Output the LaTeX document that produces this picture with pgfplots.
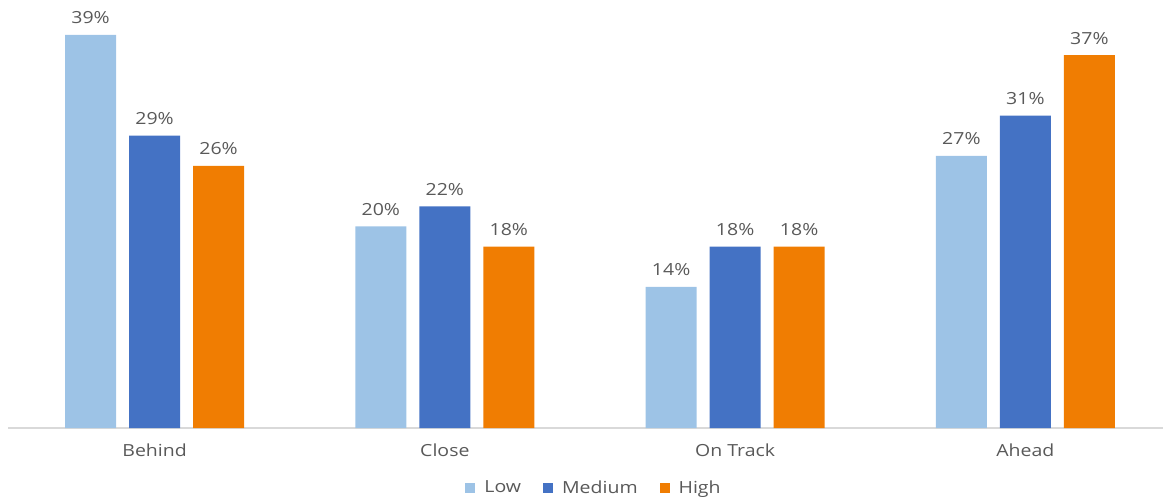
\documentclass[border=0pt]{standalone}
\usepackage{fontspec}
\setmainfont{Open Sans}[FakeStretch=1.17]
\usepackage{pgfplots}
\pgfplotsset{compat=1.18}

\definecolor{lowc}{HTML}{9DC3E6}
\definecolor{medc}{HTML}{4472C4}
\definecolor{highc}{HTML}{F07D02}
\definecolor{txt}{HTML}{595959}
\definecolor{axisgray}{HTML}{D9D9D9}

\begin{document}
\begin{tikzpicture}
% 1 px of the reference = 0.75pt
\useasboundingbox (-6pt,-54pt) rectangle (866.25pt,321pt);
\begin{axis}[
    scale only axis,
    width=866.25pt, height=321pt,
    xmin=-0.505, xmax=3.474,
    ymin=0, ymax=42.47,
    clip=false,
    axis x line=bottom,
    axis y line=none,
    x axis line style={-, draw=axisgray, line width=1pt},
    major tick length=0pt,
    ytick=\empty,
    xtick={0,1,2,3},
    xticklabels={Behind, Close, On Track, Ahead},
    xticklabel style={font=\fontsize{12.5}{14}\selectfont, text=txt, inner sep=0pt, anchor=north, yshift=-12pt},
    ybar, bar width=38.25pt,
    nodes near coords={\pgfmathprintnumber{\pgfplotspointmeta}\%},
    every node near coord/.append style={font=\fontsize{12.5}{14}\selectfont, text=txt, anchor=south, inner sep=0pt, yshift=8pt},
    /pgf/number format/assume math mode=true,
    legend columns=3,
    legend style={at={(axis description cs:0.5065,-0.140)}, anchor=center, draw=none,
        font=\fontsize{12.5}{14}\selectfont, text=txt, nodes={inner sep=0pt},
        /tikz/every odd column/.append style={column sep=6.75pt},
        /tikz/every even column/.append style={column sep=16.5pt}},
    legend image code/.code={\fill[#1] (0pt,-3.75pt) rectangle (7.5pt,3.75pt);},
]
\addplot[fill=lowc, draw=none, bar shift=-48pt] coordinates {(0,39) (1,20) (2,14) (3,27)};
\addlegendentry{Low}
\addplot[fill=medc, draw=none, bar shift=0pt] coordinates {(0,29) (1,22) (2,18) (3,31)};
\addlegendentry{Medium}
\addplot[fill=highc, draw=none, bar shift=48pt] coordinates {(0,26) (1,18) (2,18) (3,37)};
\addlegendentry{High}
\end{axis}
\end{tikzpicture}
\end{document}
